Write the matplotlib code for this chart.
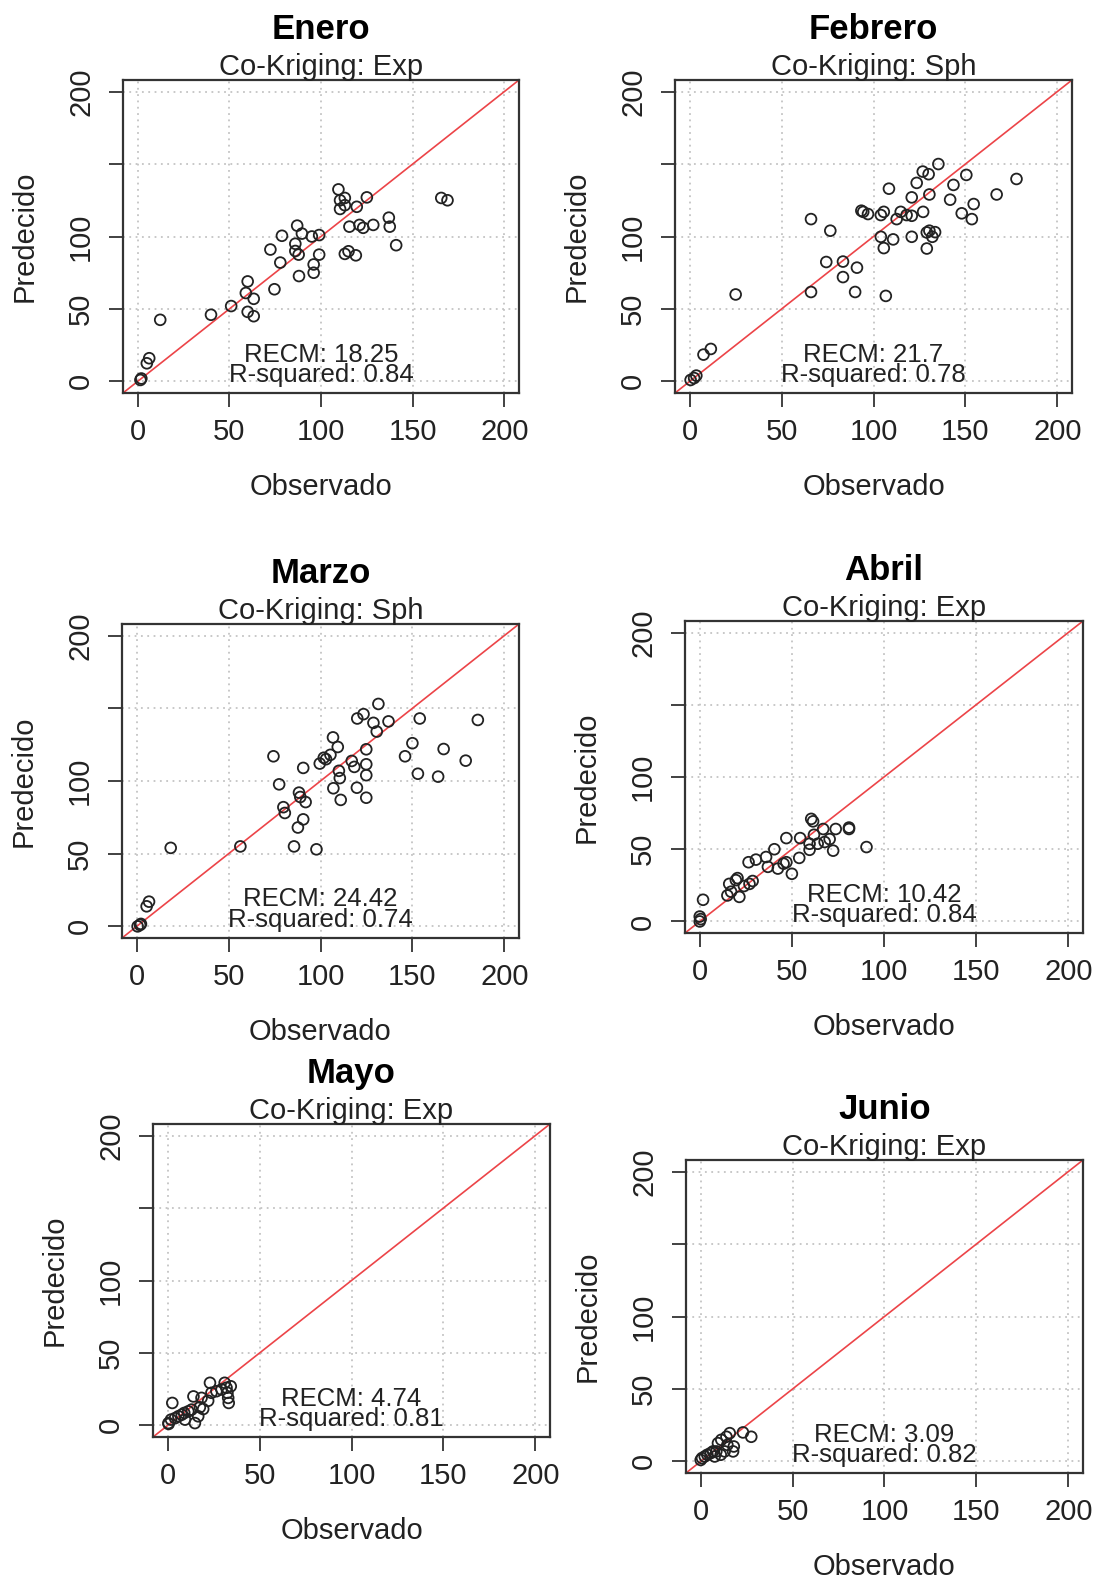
import matplotlib.pyplot as plt
from matplotlib.transforms import offset_copy

plt.rcParams['font.family'] = ['Liberation Sans', 'DejaVu Sans']

W, H, DPI = 1098, 1583, 100

meses = ['Enero', 'Febrero', 'Marzo', 'Abril', 'Mayo', 'Junio']
modelos = ['Co-Kriging: Exp', 'Co-Kriging: Sph', 'Co-Kriging: Sph',
           'Co-Kriging: Exp', 'Co-Kriging: Exp', 'Co-Kriging: Exp']
recm = ['18.25', '21.7', '24.42', '10.42', '4.74', '3.09']
r2 = ['0.84', '0.78', '0.74', '0.84', '0.81', '0.82']

# observado / predecido
obs_enero = [1.5, 2, 5, 6.3, 12.3, 40, 51, 60, 59, 63.3, 60, 63.3, 74.6, 72.4, 77.8,
             78.7, 86, 87, 87.8, 86, 89.6, 95, 99, 99, 96, 96, 88, 109.5, 110.4, 113,
             110.4, 113, 119.5, 125, 115.5, 121, 123, 128.5, 113, 115, 119, 137, 137.5,
             141, 165.6, 169]
pred_enero = [1, 2, 12.5, 16, 42.5, 46, 52, 69, 61, 57, 48, 45, 63.6, 91, 82,
              100.5, 95, 107.5, 87.5, 90, 102, 100, 101, 87.5, 80.7, 75, 72.7, 132.5, 125, 126.6,
              119, 121.6, 120.5, 127, 106.8, 108, 106, 108, 88, 89.8, 87, 113, 106.8,
              94, 126.6, 125]

obs_febrero = [0.5, 2.4, 3.6, 7.5, 11.5, 25, 66, 66, 74.3, 76.5, 83.4, 83.4, 91, 90, 93.4,
               94.4, 97, 104, 105.6, 104, 105.6, 110.7, 106.7, 108.4, 112.6, 114.8, 118, 120.8,
               120.8, 123.5, 126.8, 130, 130.4, 127, 120.8, 129, 130.4, 133.5, 132, 129, 135.3,
               141.7, 143.5, 148, 150.5, 153.5, 154.5, 167, 177.8]
pred_febrero = [1, 2.3, 4, 18.5, 22.4, 60, 112, 61.7, 82.4, 104, 82.7, 72, 78.5, 61.7, 117.8,
                117, 115.5, 114.8, 117, 99.8, 92, 98, 59, 133, 112, 117, 114.8, 114.3,
                127, 137, 144.8, 143, 129, 117, 99.8, 102.8, 104, 103, 99.8, 91.7, 150,
                125.4, 135.6, 116, 142.5, 112, 122.4, 129, 139.7]

obs_marzo = [0.5, 1.8, 2.3, 5.4, 6.7, 18.5, 56.4, 74.4, 77.5, 79.8, 80.6, 85.6, 88.3, 89,
             91.9, 90.6, 87.7, 90.6, 97.8, 99.6, 101.8, 103, 105.4, 106.8, 109.4, 110, 110.5,
             107, 111, 117, 118.4, 119.8, 120, 123.4, 124.9, 124.9, 124.9, 124.9, 128.8,
             130.6, 131.5, 137, 146, 150, 153, 154, 164, 167, 179, 185.6]
pred_marzo = [0, 1, 1.7, 13.8, 17, 54, 55, 117, 97.7, 82, 78, 55, 92, 89,
              85.5, 73.6, 68, 109, 53, 112, 116, 115, 118, 130, 123.4, 107, 102,
              95, 87, 113.8, 109.7, 95.4, 143, 146, 121.8, 111.5, 104, 88.5, 140,
              134, 153, 141, 117, 126, 105, 143, 103, 122, 114, 142]

obs_abril = [0, 0.5, 0, 1.8, 15, 17, 16, 19.6, 20.5, 21.5, 24, 27, 28.7, 26.5, 30.5, 36,
             37, 40.5, 42.4, 45.5, 47, 47, 50, 54, 54.5, 59.6, 59.6, 60.5, 61.5, 62, 64,
             67, 67.8, 70.5, 72.4, 73.8, 81, 81, 90.5]
pred_abril = [0, 1.6, 3.4, 15, 18, 20.6, 26, 28.6, 30, 17, 24.5, 26, 28, 41, 42.8, 44.6,
              37.8, 50, 36.6, 40, 41, 57.7, 33, 44, 57.7, 53.8, 49.6, 71, 69.3, 60, 53.8,
              64, 55, 57, 49, 64, 65, 64, 51.5]

obs_mayo = [0.5, 0.4, 1.8, 2.5, 4, 5.8, 7.6, 9, 11.2, 14, 14.8, 13, 17.5, 19.3, 18.4, 22,
            23, 23.8, 26.5, 29.3, 31, 32, 32.5, 32.9, 33.2, 34.3, 9.4, 16.6]
pred_mayo = [1, 1.6, 4, 15.5, 5, 6.3, 7.4, 8.6, 9.7, 20, 1.6, 10.9, 12.5, 11.3, 19, 17,
             29.4, 22.5, 23.6, 24.8, 29.4, 26, 22.5, 19, 15.5, 27, 4, 6.3]

obs_junio = [0, 0.7, 2.2, 3.6, 5.4, 6.7, 8.5, 9.4, 11.2, 13, 14, 15.8, 14.5, 17.6, 18,
             23, 27.5, 7.6, 10.9]
pred_junio = [1, 2.3, 3.4, 4.6, 5.7, 6.9, 6.9, 12.6, 14.9, 6.9, 17, 19.5, 11.4, 6.9, 10.3,
              20, 17, 3.4, 4.6]

observados = [obs_enero, obs_febrero, obs_marzo, obs_abril, obs_mayo, obs_junio]
predecidos = [pred_enero, pred_febrero, pred_marzo, pred_abril, pred_mayo, pred_junio]

ticks = [0, 50, 100, 150, 200]
xlabels = ['0', '50', '100', '150', '200']
ylabels = ['0', '50', '100', '', '200']

# cajas de cada panel en pixeles (izq, arriba, der, abajo)
cajas = [(123, 80, 519, 393), (675, 80, 1072, 393),
         (122, 624, 519, 938), (685, 621, 1083, 933),
         (153, 1124, 550, 1437), (686, 1160, 1083, 1473)]

tinta = '#222222'
px = 72.0 / DPI  # puntos por pixel

fig = plt.figure(figsize=(W / DPI, H / DPI), dpi=DPI)
fig.patch.set_facecolor('white')

for i in range(6):
    x0, y0, x1, y1 = cajas[i]
    ax = fig.add_axes([x0 / W, 1 - y1 / H, (x1 - x0) / W, (y1 - y0) / H])
    ax.set_xlim(-8, 208)
    ax.set_ylim(-8, 208)
    ax.set_xticks(ticks)
    ax.set_yticks(ticks)
    ax.set_xticklabels(xlabels)
    ax.set_yticklabels(ylabels, rotation=90, va='center')
    ax.tick_params(direction='out', length=14 * px, width=1.3, color='#333333',
                   labelsize=21, labelcolor=tinta)
    ax.tick_params(axis='x', pad=8)
    ax.tick_params(axis='y', pad=10)
    for s in ax.spines.values():
        s.set_linewidth(1.6)
        s.set_color('#333333')
    ax.grid(True, color='#c4c4c4', linestyle=(0, (1, 2.5)), linewidth=1.3)
    ax.set_axisbelow(True)

    ax.axline((0, 0), slope=1, color='#ec4448', linewidth=1.2, zorder=2)
    ax.scatter(observados[i], predecidos[i], s=60, facecolors='none',
               edgecolors=tinta, linewidths=1.3, zorder=3)

    ax.text(100, 18.5, 'RECM: ' + recm[i], ha='center', va='center',
            fontsize=18.5, color=tinta, zorder=4)
    ax.text(100, 4.5, 'R-squared: ' + r2[i], ha='center', va='center',
            fontsize=18.5, color=tinta, zorder=4)

    t_titulo = offset_copy(ax.transAxes, fig=fig, x=0, y=41 * px, units='points')
    ax.text(0.5, 1, meses[i], transform=t_titulo, ha='center', va='baseline',
            fontsize=25, fontweight='bold', color='black')
    t_sub = offset_copy(ax.transAxes, fig=fig, x=0, y=5 * px, units='points')
    ax.text(0.5, 1, modelos[i], transform=t_sub, ha='center', va='baseline',
            fontsize=21, color=tinta)
    t_x = offset_copy(ax.transAxes, fig=fig, x=0, y=-94 * px, units='points')
    ax.text(0.5, 0, 'Observado', transform=t_x, ha='center', va='center',
            fontsize=21, color=tinta)
    t_y = offset_copy(ax.transAxes, fig=fig, x=-98 * px, y=0, units='points')
    ax.text(0, 0.5, 'Predecido', transform=t_y, ha='center', va='center',
            rotation=90, fontsize=21, color=tinta)

fig.savefig('out.png', dpi=DPI, facecolor='white')
